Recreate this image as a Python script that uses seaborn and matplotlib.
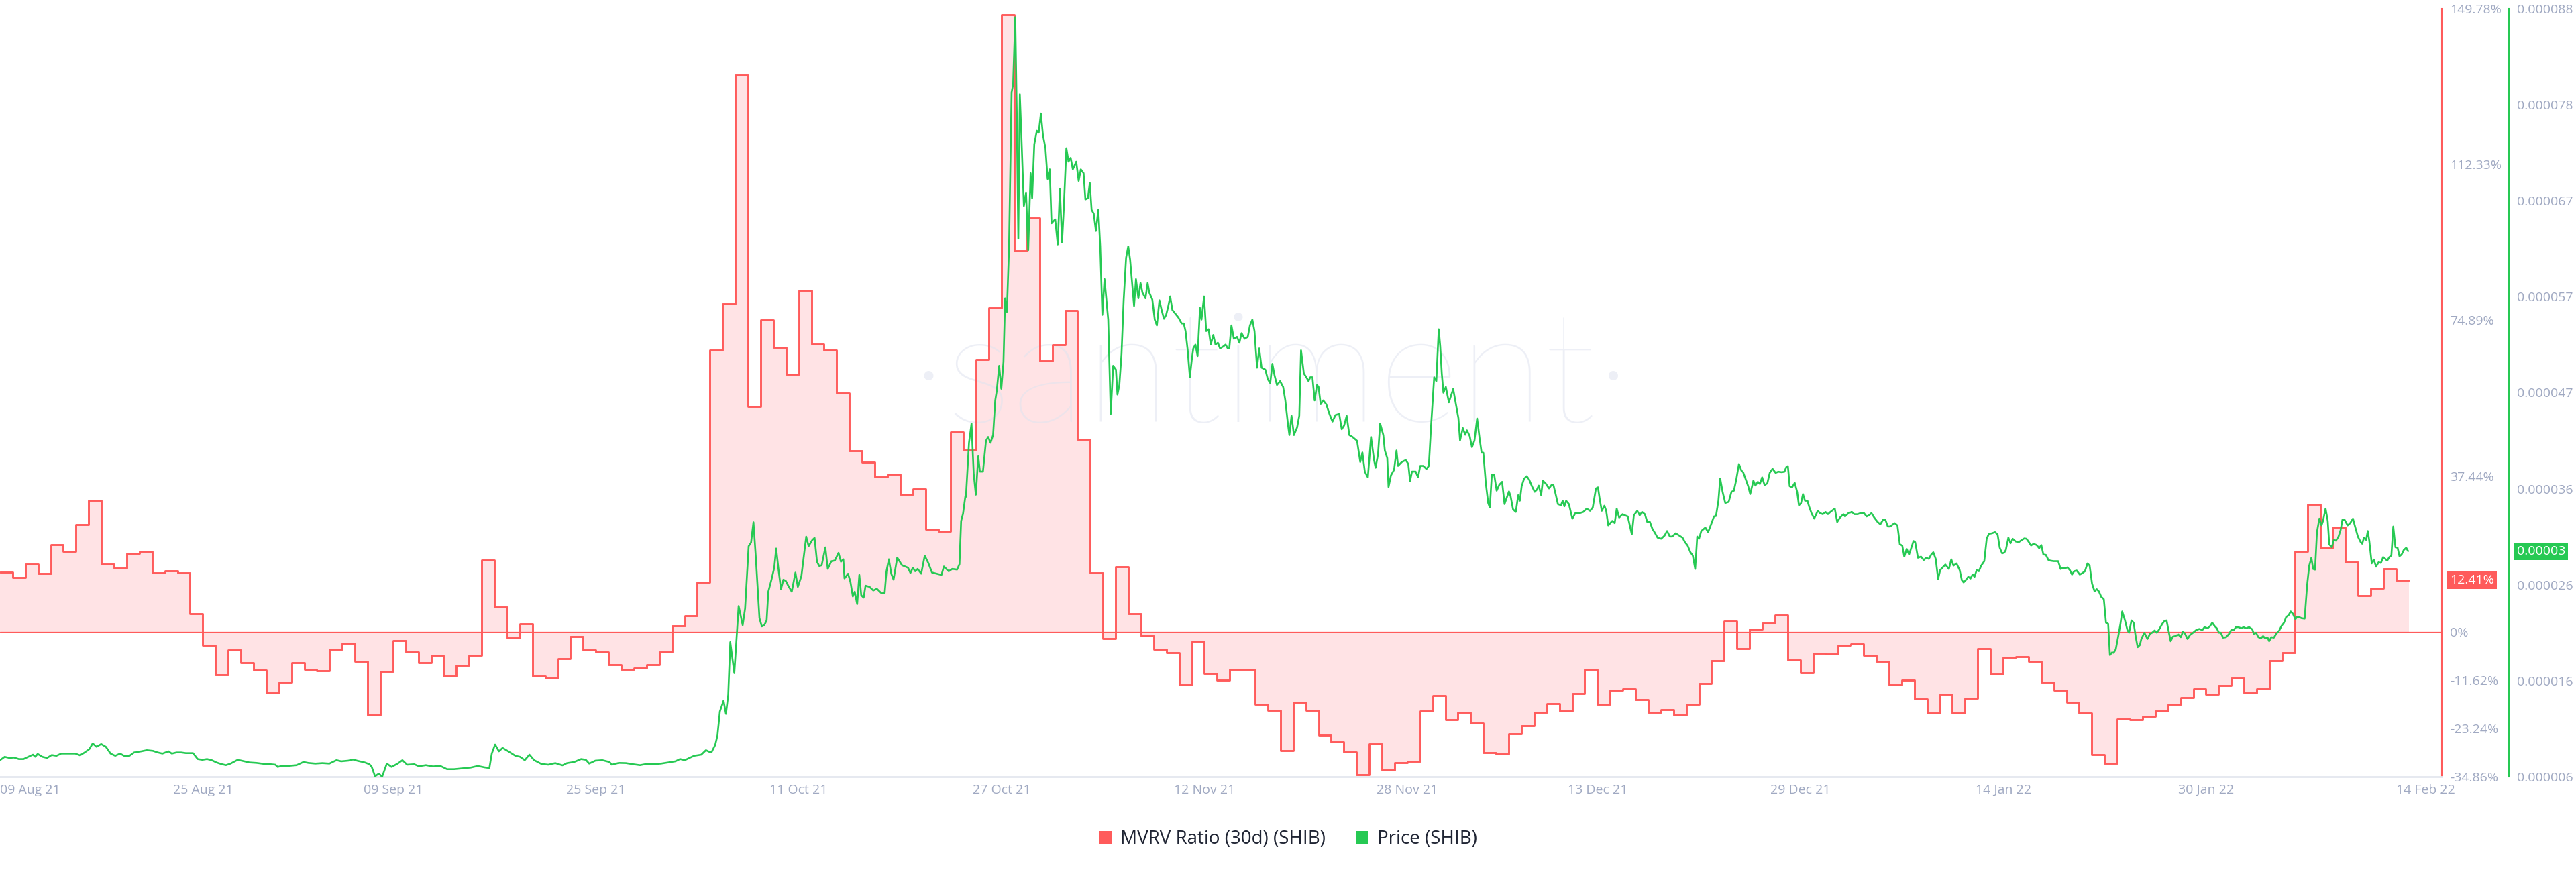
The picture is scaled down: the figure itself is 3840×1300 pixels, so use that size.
import numpy as np
import pandas as pd
import matplotlib
matplotlib.use("Agg")
import matplotlib.pyplot as plt
import matplotlib.transforms as mtransforms
from matplotlib.patches import Patch
import seaborn as sns

# ---------------------------------------------------------------- data
START = "2021-08-09"

# MVRV ratio (30d) of SHIB, one value per day, in percent
mvrv_aug_oct = [14.4, 13.0, 16.3, 14.0, 21.0, 19.4, 25.8, 31.6, 16.3, 15.3,
                18.8, 19.4, 14.1, 14.7, 14.2, 4.3, -3.2, -10.4, -4.4, -7.5,
                -9.3, -14.7, -12.1, -7.5, -9.1, -9.4, -4.3, -2.8, -7.2, -20.1,
                -9.6, -2.1, -4.9, -7.5, -5.7, -10.6, -8.1, -5.7, 17.2, 6.0,
                -1.4, 1.9, -10.6, -11.1, -6.4, -1.2, -4.4, -4.9, -7.9, -9.0,
                -8.8, -8.0, -4.9, 1.5, 3.8, 11.9, 67.7, 78.8, 133.8, 54.2,
                74.9, 68.4, 61.9, 82.0, 69.1, 67.7, 57.3, 43.5, 40.7]
mvrv_oct_dec = [37.3, 37.9, 33.0, 34.4, 24.6, 24.1, 48.0, 43.6, 65.4, 77.8,
                148.4, 91.5, 99.4, 65.1, 69.0, 77.2, 46.2, 14.2, -1.6, 15.6,
                4.4, -1.0, -4.3, -5.1, -12.7, -2.3, -10.0, -11.6, -9.1, -9.1,
                -17.5, -18.9, -28.5, -17.0, -18.9, -24.8, -26.4, -28.9, -34.3, -26.9,
                -33.3, -31.4, -31.2, -19.1, -15.4, -21.1, -19.3, -22.0, -29.0, -29.3,
                -24.6, -22.6, -19.3, -17.3, -19.0, -14.9, -9.0, -17.4, -14.1, -13.8,
                -16.3, -19.4, -18.8, -20.1, -17.4, -12.5, -7.0, 2.6, -4.1]
mvrv_dec_feb = [0.6, 2.1, 4.0, -6.8, -9.8, -5.2, -5.4, -3.2, -3.0, -5.6,
                -7.2, -12.8, -11.7, -16.2, -19.5, -15.1, -19.5, -16.0, -4.1, -10.2,
                -6.2, -6.0, -7.2, -12.1, -14.0, -17.0, -19.6, -29.5, -31.7, -21.0,
                -21.1, -20.4, -19.0, -17.4, -15.8, -13.8, -15.1, -12.9, -11.2, -14.7,
                -13.7, -6.9, -5.1, 19.3, 30.6, 20.2, 25.1, 16.8, 8.6, 10.5,
                15.1, 12.41]

# SHIB price: (days since START, price in millionths of USD)
price_aug_sep = [(0.00, 7.77), (0.37, 8.13), (0.74, 8.01), (1.11, 8.05), (1.48, 7.89), (1.86, 7.89), (2.23, 8.13), (2.60, 8.36), (2.78, 8.13), (2.97, 8.44),
                 (3.34, 8.13), (3.71, 8.01), (4.08, 8.32), (4.45, 8.24), (4.83, 8.48), (5.20, 8.48), (5.57, 8.48), (5.94, 8.48), (6.31, 8.29), (6.68, 8.60),
                 (7.05, 8.96), (7.31, 9.56), (7.61, 9.20), (7.98, 9.49), (8.35, 9.20), (8.72, 8.48), (9.09, 8.24), (9.47, 8.48), (9.84, 8.20), (10.21, 8.24),
                 (10.58, 8.60), (11.14, 8.72), (11.58, 8.84), (12.06, 8.77), (12.44, 8.60), (12.81, 8.48), (13.29, 8.72), (13.55, 8.48), (13.92, 8.60), (14.29, 8.60),
                 (14.66, 8.53), (15.22, 8.53), (15.59, 7.89), (15.96, 7.81), (16.33, 7.89), (16.70, 7.77), (17.07, 7.53), (17.45, 7.36), (17.82, 7.24), (18.19, 7.41),
                 (18.75, 7.81), (19.12, 7.70), (19.67, 7.53), (20.23, 7.48), (20.79, 7.38), (21.34, 7.34), (21.72, 7.29), (21.90, 7.05), (22.27, 7.17), (22.83, 7.17),
                 (23.39, 7.24), (23.94, 7.58), (24.31, 7.48), (24.87, 7.41), (25.43, 7.46), (25.98, 7.41), (26.54, 7.77), (26.91, 7.65), (27.47, 7.72), (27.84, 7.84),
                 (28.21, 7.70), (28.77, 7.53), (29.14, 7.34), (29.32, 7.05), (29.58, 6.05), (29.88, 6.33), (30.14, 6.00), (30.51, 7.41), (30.88, 7.05), (31.37, 7.41),
                 (31.74, 7.77), (32.11, 7.29), (32.67, 7.34), (33.04, 7.12), (33.59, 7.24), (34.15, 7.10), (34.71, 7.17), (35.26, 6.81), (35.82, 6.81), (36.56, 6.91),
                 (37.12, 6.98), (37.68, 7.15), (38.23, 7.00), (38.60, 6.93), (38.79, 8.48), (39.05, 9.44), (39.35, 8.72), (39.64, 9.08), (40.09, 8.72), (40.65, 8.24),
                 (41.02, 8.13), (41.39, 7.77), (41.76, 8.36), (42.13, 7.77), (42.69, 7.38), (43.24, 7.29), (43.80, 7.46), (44.36, 7.22), (44.73, 7.46), (45.29, 7.58),
                 (45.84, 7.89), (46.21, 7.81), (46.47, 7.41), (46.96, 7.72), (47.51, 7.77), (48.07, 7.58), (48.26, 7.29), (48.81, 7.48), (49.37, 7.46), (49.93, 7.34),
                 (50.48, 7.24), (51.04, 7.38), (51.60, 7.34), (52.15, 7.41), (52.71, 7.53), (53.27, 7.65), (53.64, 7.89), (54.01, 7.77), (54.38, 8.01), (54.75, 8.24),
                 (55.31, 8.36), (55.68, 8.84), (56.05, 8.60)]
price_oct_a = [(56.12, 8.62), (56.41, 9.39), (56.59, 10.41), (56.78, 12.97), (57.07, 14.12), (57.26, 12.71), (57.44, 14.76), (57.60, 20.38), (57.92, 17.06), (58.26, 24.23),
               (58.58, 22.18), (58.77, 23.97), (59.05, 30.62), (59.24, 31.01), (59.43, 33.18), (59.62, 29.34), (59.90, 22.95), (60.09, 22.05), (60.28, 22.18), (60.47, 22.69),
               (60.60, 25.76), (60.85, 27.04), (61.07, 28.32), (61.22, 30.37), (61.41, 28.06), (61.60, 26.02), (61.79, 27.04), (61.98, 26.91), (62.17, 26.40), (62.45, 25.76),
               (62.74, 27.80), (62.93, 26.27), (63.21, 27.42), (63.59, 31.64), (63.78, 30.62), (64.06, 31.26), (64.25, 31.51), (64.44, 28.96), (64.62, 28.50), (64.81, 28.58),
               (65.10, 30.49), (65.29, 28.19), (65.57, 29.01), (65.85, 29.09), (66.14, 29.91), (66.33, 28.96), (66.52, 29.22), (66.61, 27.17), (66.89, 27.68), (67.08, 26.79),
               (67.27, 25.25), (67.42, 25.76), (67.61, 24.43), (67.78, 27.55), (67.93, 25.38), (68.12, 25.12), (68.27, 26.40), (68.59, 26.27), (68.88, 25.89), (69.16, 26.07),
               (69.54, 25.58), (69.78, 25.63), (69.92, 27.93), (70.11, 29.22), (70.30, 27.68), (70.48, 27.04), (70.77, 29.40), (71.15, 28.58), (71.62, 28.32), (71.81, 27.76),
               (72.00, 28.32), (72.19, 27.94), (72.38, 28.19), (72.66, 27.68), (72.94, 29.60), (73.22, 28.83), (73.51, 27.81), (73.88, 27.68), (74.26, 27.55), (74.45, 28.45),
               (74.83, 27.94), (75.11, 28.19), (75.49, 28.12), (75.68, 28.70), (75.81, 33.31), (75.96, 34.08), (76.15, 36.00)]
price_oct_nov = [(76.19, 35.90), (76.43, 41.66), (76.63, 43.72), (76.80, 38.37), (76.97, 36.11), (77.16, 40.22), (77.29, 38.58), (77.53, 38.58), (77.77, 41.87), (77.94, 42.28),
                 (78.13, 41.66), (78.33, 42.48), (78.50, 46.18), (78.62, 47.21), (78.81, 49.88), (78.98, 47.42), (79.15, 50.29), (79.28, 57.08), (79.42, 55.64), (79.59, 62.63),
                 (79.79, 79.07), (79.91, 79.90), (80.08, 87.09), (80.20, 76.61), (80.32, 63.45), (80.44, 78.87), (80.56, 74.55), (80.76, 66.94), (80.93, 68.38), (81.10, 62.22),
                 (81.29, 70.44), (81.41, 67.77), (81.58, 73.53), (81.78, 74.97), (81.93, 74.76), (82.10, 76.82), (82.26, 74.55), (82.46, 73.11), (82.63, 69.82), (82.80, 70.85),
                 (82.94, 65.09), (83.23, 65.51), (83.43, 62.83), (83.60, 68.79), (83.77, 63.04), (83.91, 66.74), (84.11, 73.11), (84.28, 71.67), (84.45, 72.08), (84.62, 70.85),
                 (84.89, 71.67), (85.08, 69.61), (85.25, 70.85), (85.47, 70.44), (85.61, 67.64), (85.81, 67.77), (85.96, 69.41), (86.10, 66.53), (86.27, 66.12), (86.44, 64.27),
                 (86.63, 66.53), (86.78, 62.63), (86.95, 55.31), (87.12, 59.13), (87.41, 54.81), (87.61, 44.74), (87.80, 49.88), (88.02, 49.47), (88.14, 46.80), (88.29, 47.83),
                 (88.46, 51.12), (88.63, 56.88), (88.82, 61.40), (88.99, 62.63), (89.14, 61.19), (89.31, 58.52), (89.45, 56.26), (89.60, 59.13), (89.79, 57.08), (89.96, 58.72),
                 (90.11, 57.69), (90.35, 57.08), (90.52, 58.72), (90.65, 57.69), (90.89, 56.95), (91.08, 54.81), (91.25, 54.19), (91.45, 56.87), (91.62, 55.84), (91.81, 54.89),
                 (91.98, 55.31), (92.15, 56.25), (92.30, 57.28), (92.47, 55.84), (92.71, 55.43), (92.95, 55.02), (93.20, 54.40), (93.37, 54.40), (93.51, 53.58), (93.68, 51.53),
                 (93.85, 48.65), (94.00, 50.50), (94.12, 51.73), (94.29, 52.14), (94.46, 50.91), (94.65, 56.05), (94.77, 54.81), (94.97, 57.28), (95.14, 53.58), (95.33, 53.78),
                 (95.50, 52.14), (95.70, 53.17), (95.87, 52.14), (96.06, 52.34), (96.23, 51.73), (96.48, 51.93), (96.67, 52.14), (96.84, 51.73), (96.96, 51.73), (97.13, 54.19),
                 (97.32, 52.76), (97.57, 52.96), (97.76, 52.34), (97.93, 53.37), (98.17, 52.76), (98.42, 52.96), (98.59, 54.19), (98.78, 54.81), (98.95, 53.58), (99.15, 49.67),
                 (99.32, 51.73), (99.51, 49.67), (99.80, 49.47), (100.00, 48.44), (100.19, 48.03), (100.36, 50.09), (100.53, 48.85), (100.72, 47.83), (100.97, 48.24), (101.21, 47.62),
                 (101.38, 46.18), (101.58, 43.72), (101.70, 42.48), (101.87, 44.54), (102.06, 42.48), (102.31, 43.30), (102.48, 44.54), (102.62, 51.53), (102.84, 49.06), (103.04, 48.65),
                 (103.21, 48.24), (103.35, 48.65), (103.52, 48.65), (103.69, 46.18), (103.88, 47.83), (104.00, 47.62), (104.17, 45.77), (104.37, 46.18), (104.61, 45.77), (104.86, 44.74),
                 (105.10, 43.92), (105.34, 44.62), (105.63, 44.74), (105.83, 43.10), (106.02, 43.51), (106.22, 44.54), (106.43, 42.48), (106.68, 42.28), (107.04, 41.87), (107.29, 39.61),
                 (107.46, 40.63), (107.65, 38.58), (107.89, 37.96), (108.14, 42.28), (108.38, 39.81), (108.50, 38.99), (108.69, 40.43), (108.86, 43.72), (109.11, 42.48), (109.23, 40.84),
                 (109.42, 40.02), (109.52, 36.93), (109.71, 38.17), (109.96, 38.78), (110.15, 40.84), (110.27, 39.19), (110.57, 39.61), (110.88, 39.81), (111.08, 39.40), (111.22, 37.55),
                 (111.37, 38.58), (111.66, 38.58), (111.85, 37.96), (112.02, 39.19), (112.26, 39.19), (112.51, 38.86), (112.70, 39.19), (112.87, 43.30), (113.12, 48.65), (113.29, 48.24),
                 (113.48, 53.78), (113.60, 51.93), (113.72, 49.06), (113.85, 47.00), (114.04, 47.62), (114.28, 45.97)]
price_dec_jan = [(114.62, 47.40), (114.84, 45.73), (115.03, 44.30), (115.16, 41.91), (115.38, 43.23), (115.57, 42.51), (115.70, 42.99), (115.92, 42.39), (116.10, 41.19), (116.30, 41.91),
                 (116.51, 44.25), (116.70, 42.15), (116.86, 40.60), (117.00, 40.60), (117.19, 37.38), (117.38, 35.23), (117.51, 34.75), (117.67, 38.28), (117.86, 38.21), (118.05, 36.54),
                 (118.26, 37.18), (118.48, 37.49), (118.67, 35.11), (119.02, 36.47), (119.15, 35.94), (119.34, 34.56), (119.56, 34.27), (119.75, 36.06), (119.88, 35.47), (120.02, 37.02),
                 (120.21, 37.81), (120.42, 38.09), (120.61, 37.73), (120.83, 37.02), (121.05, 36.42), (121.23, 36.66), (121.37, 37.09), (121.56, 36.06), (121.69, 37.61), (121.91, 37.33),
                 (122.18, 36.78), (122.37, 37.14), (122.53, 37.14), (122.72, 36.06), (122.88, 35.11), (123.12, 34.99), (123.26, 35.47), (123.39, 34.87), (123.53, 35.47), (123.75, 35.11),
                 (124.02, 33.55), (124.26, 34.15), (124.61, 34.15), (124.88, 34.27), (125.15, 34.63), (125.42, 34.39), (125.63, 34.75), (125.88, 36.78), (126.04, 36.90), (126.17, 35.70),
                 (126.34, 34.39), (126.55, 34.94), (126.69, 34.39), (126.85, 32.84), (127.17, 33.32), (127.36, 33.08), (127.52, 34.63), (127.71, 33.67), (127.98, 34.03), (128.17, 33.91),
                 (128.39, 33.79), (128.71, 31.88), (128.87, 33.91), (129.14, 34.39), (129.33, 33.91), (129.52, 34.27), (129.74, 34.03), (129.93, 33.20), (130.14, 33.20), (130.33, 32.48),
                 (130.55, 32.00), (130.74, 31.53), (131.03, 31.41), (131.30, 31.76), (131.49, 32.24), (131.71, 31.65), (131.90, 31.65), (132.17, 32.00), (132.44, 31.76), (132.71, 31.53),
                 (132.90, 31.05), (133.11, 30.69), (133.33, 29.97), (133.52, 29.62), (133.71, 28.18), (133.87, 31.65), (134.01, 31.41), (134.19, 32.24), (134.51, 32.60), (134.73, 32.12),
                 (135.00, 33.08), (135.19, 33.79), (135.35, 33.84), (135.54, 35.47), (135.68, 37.85), (135.87, 36.42), (136.08, 35.23), (136.35, 35.35), (136.57, 36.42), (136.76, 36.54),
                 (136.95, 37.73), (137.16, 39.40), (137.35, 38.69), (137.49, 38.52), (137.70, 37.73), (137.89, 37.02), (138.05, 36.18), (138.30, 37.61), (138.46, 37.09), (138.65, 37.49),
                 (138.81, 37.26), (138.99, 37.97), (139.18, 37.14), (139.40, 37.33), (139.59, 38.45), (139.81, 38.88), (140.05, 38.45), (140.26, 38.57), (140.53, 38.52), (140.75, 38.57),
                 (140.89, 39.05), (141.02, 39.17), (141.16, 37.02), (141.35, 36.90), (141.56, 37.38), (141.75, 36.42), (141.89, 34.99), (142.05, 35.18), (142.21, 36.18), (142.37, 35.47),
                 (142.56, 35.47), (142.69, 34.87), (142.88, 34.15), (143.10, 33.56), (143.37, 34.39), (143.56, 34.15), (143.77, 34.03), (143.99, 34.27), (144.18, 34.03), (144.37, 34.27),
                 (144.72, 34.63), (144.91, 33.20), (145.13, 33.67), (145.40, 34.03), (145.53, 33.79), (145.80, 34.15), (146.07, 34.27), (146.26, 34.03), (146.53, 34.03), (146.75, 34.15),
                 (147.02, 34.15), (147.23, 33.79), (147.41, 33.91), (147.61, 34.15), (147.83, 33.67), (148.10, 33.20), (148.31, 32.96), (148.53, 33.44), (148.71, 33.44), (148.90, 32.72),
                 (149.09, 32.72), (149.31, 32.96), (149.44, 33.08), (149.66, 32.84), (149.85, 30.81), (150.04, 30.69), (150.20, 29.50), (150.39, 30.33), (150.58, 29.73), (150.93, 31.17),
                 (151.06, 31.05), (151.28, 29.38), (151.52, 29.50), (151.74, 29.14), (151.93, 29.38), (152.14, 29.26), (152.33, 29.73), (152.49, 29.97), (152.68, 29.26), (152.87, 27.11),
                 (153.03, 28.06), (153.44, 28.66)]
price_jan_feb = [(153.72, 28.18), (153.91, 29.21), (154.08, 28.54), (154.32, 28.78), (154.57, 28.06), (154.74, 26.99), (154.88, 26.75), (155.05, 26.99), (155.25, 27.35), (155.42, 27.16),
                 (155.59, 27.59), (155.74, 27.35), (155.91, 28.06), (156.08, 27.94), (156.27, 28.54), (156.51, 29.02), (156.70, 31.41), (156.87, 31.93), (157.12, 32.00), (157.36, 32.12),
                 (157.56, 31.88), (157.73, 30.45), (157.92, 29.85), (158.09, 29.93), (158.21, 30.21), (158.41, 31.53), (158.58, 30.93), (158.75, 31.41), (158.99, 31.12), (159.23, 31.05),
                 (159.48, 31.29), (159.67, 31.45), (159.84, 31.41), (160.03, 31.05), (160.20, 30.69), (160.40, 30.88), (160.64, 30.74), (160.84, 30.40), (161.01, 30.74), (161.17, 29.73),
                 (161.37, 29.69), (161.57, 29.14), (161.74, 29.07), (161.98, 29.02), (162.34, 29.02), (162.53, 28.18), (162.70, 28.30), (162.87, 28.25), (163.07, 28.35), (163.26, 28.06),
                 (163.43, 27.59), (163.60, 27.94), (163.80, 28.02), (164.04, 27.59), (164.21, 27.71), (164.45, 27.94), (164.65, 28.78), (164.82, 28.54), (165.01, 26.63), (165.21, 25.79),
                 (165.38, 26.03), (165.55, 25.79), (165.74, 25.20), (165.94, 24.96), (166.11, 22.45), (166.28, 22.33), (166.42, 18.99), (166.59, 19.28), (166.71, 19.23), (166.88, 19.59),
                 (167.08, 21.02), (167.25, 22.33), (167.39, 23.65), (167.61, 22.69), (167.80, 21.66), (167.93, 21.38), (168.12, 22.69), (168.29, 22.45), (168.46, 20.90), (168.61, 19.83),
                 (168.78, 20.06), (168.90, 20.71), (169.14, 21.38), (169.38, 20.71), (169.58, 21.26), (169.75, 21.38), (169.95, 21.62), (170.12, 21.38), (170.31, 21.74), (170.55, 22.33),
                 (170.72, 22.62), (170.89, 22.69), (171.04, 21.62), (171.21, 20.47), (171.38, 20.95), (171.57, 21.02), (171.82, 21.19), (172.01, 20.90), (172.18, 21.50), (172.35, 21.26),
                 (172.54, 20.71), (172.74, 21.14), (172.98, 21.38), (173.22, 21.66), (173.47, 21.78), (173.71, 21.66), (173.88, 21.97), (174.12, 21.85), (174.32, 22.09), (174.49, 22.45),
                 (174.68, 22.09), (174.85, 21.85), (175.02, 21.38), (175.17, 21.38), (175.34, 20.85), (175.58, 20.90), (175.82, 21.26), (175.99, 21.66), (176.19, 21.66), (176.36, 21.97),
                 (176.55, 21.97), (176.79, 21.85), (176.96, 21.97), (177.16, 21.85), (177.40, 21.97), (177.65, 21.74), (177.77, 21.26), (177.94, 21.38), (178.13, 20.90), (178.33, 20.78),
                 (178.50, 21.02), (178.67, 20.78), (178.86, 20.85), (178.98, 20.47), (179.15, 20.90), (179.35, 20.85), (179.54, 21.26), (179.78, 21.62), (179.95, 22.09), (180.15, 22.45),
                 (180.32, 23.05), (180.51, 23.24), (180.68, 23.65), (180.85, 23.41), (181.05, 22.81), (181.17, 23.05), (181.34, 23.05), (181.53, 22.93), (181.78, 22.88), (181.97, 26.39),
                 (182.14, 28.54), (182.31, 29.38), (182.45, 28.18), (182.60, 28.11), (182.75, 32.12), (182.94, 33.56), (183.11, 32.84), (183.23, 33.32), (183.43, 34.63), (183.60, 33.32),
                 (183.72, 30.81), (183.92, 30.50), (184.08, 31.29), (184.25, 31.21), (184.45, 31.64), (184.62, 32.36), (184.76, 33.44), (184.93, 33.44), (185.17, 32.84), (185.37, 33.08),
                 (185.59, 33.56), (185.78, 32.60), (185.98, 31.64), (186.20, 31.05), (186.32, 30.88), (186.46, 31.53), (186.63, 31.29), (186.76, 32.24), (186.88, 31.17), (187.07, 28.78),
                 (187.24, 29.19), (187.41, 28.42), (187.61, 28.90), (187.80, 28.83), (187.97, 29.45), (188.14, 29.26), (188.29, 29.07), (188.46, 29.45), (188.62, 29.62), (188.77, 32.72),
                 (188.94, 30.50), (189.11, 30.45), (189.26, 29.54), (189.43, 29.73), (189.60, 30.21), (189.79, 30.45), (189.94, 30.09)]

x_tick_labels = ["09 Aug 21", "25 Aug 21", "09 Sep 21", "25 Sep 21", "11 Oct 21", "27 Oct 21",
                 "12 Nov 21", "28 Nov 21", "13 Dec 21", "29 Dec 21", "14 Jan 22", "30 Jan 22", "14 Feb 22"]
mvrv_ticks = [-34.86, -23.24, -11.62, 0, 37.44, 74.89, 112.33, 149.78]
price_tick_labels = ["0.000006", "0.000016", "0.000026", "0.000036", "0.000047",
                     "0.000057", "0.000067", "0.000078", "0.000088"]
mvrv_last_label = "12.41%"
price_last_label = "0.00003"
series_names = ["MVRV Ratio (30d) (SHIB)", "Price (SHIB)"]
watermark = "\u00b7santiment\u00b7"

# ---------------------------------------------------------------- style
RED = "#ff5b5b"
FILL = "#ffe3e5"
GREEN = "#26c953"
TICK = "#a0a9c2"
AXIS = "#e3e7ef"

sns.set_theme(style="white")
plt.rcParams["font.family"] = ["Open Sans", "DejaVu Sans"]

start = pd.Timestamp(START)
mvrv = mvrv_aug_oct + mvrv_oct_dec + mvrv_dec_feb
days = list(pd.date_range(start, periods=len(mvrv), freq="D"))
step_x = days + [days[-1] + pd.Timedelta(days=1)]
step_y = mvrv + [mvrv[-1]]
red_df = pd.DataFrame({"date": step_x, "mvrv": step_y})

pairs = price_aug_sep + price_oct_a + price_oct_nov + price_dec_jan + price_jan_feb
price_df = pd.DataFrame({
    "date": [start + pd.Timedelta(days=d) for d, _ in pairs],
    "price": [p * 1e-6 for _, p in pairs],
})

# ---------------------------------------------------------------- figure
W, H = 3840, 1300
fig = plt.figure(figsize=(W / 100, H / 100), dpi=100)
fig.patch.set_facecolor("white")
ax_left, ax_right, ax_top, ax_bottom = 0, 3640, 13, 1158
ax = fig.add_axes([ax_left / W, 1 - ax_bottom / H, (ax_right - ax_left) / W, (ax_bottom - ax_top) / H])
ax.set_facecolor("white")

ax.fill_between(red_df["date"], red_df["mvrv"], 0, step="post", color=FILL, lw=0, zorder=1)
ax.text(0.5206, 0.517, watermark, transform=ax.transAxes, ha="center", va="center",
        fontsize=168, color="#dfe3ef", alpha=0.55, family=["Lato", "DejaVu Sans"],
        fontweight="light", zorder=1.5)
ax.axhline(0, color=RED, lw=0.9, zorder=2)
sns.lineplot(data=red_df, x="date", y="mvrv", ax=ax, color=RED, lw=2.1,
             drawstyle="steps-post", estimator=None, sort=False, zorder=3)

ax.set_xlim(start, step_x[-1] + pd.Timedelta(days=2.6))
ax.set_ylim(min(mvrv_ticks), max(mvrv_ticks))
ax.set_xlabel("")
ax.set_ylabel("")

# price axis (twinx moves the first axis' ticks to the left, so set sides afterwards)
ax2 = ax.twinx()
sns.lineplot(data=price_df, x="date", y="price", ax=ax2, color=GREEN, lw=1.9,
             estimator=None, sort=False, zorder=4)
ax2.set_ylim(6e-6, 88e-6)
ax2.set_yticks(np.linspace(6e-6, 88e-6, len(price_tick_labels)))
ax2.set_yticklabels(price_tick_labels)
ax2.tick_params(axis="y", length=0, pad=8.6, labelsize=14, labelcolor=TICK)
ax2.set_ylabel("")
ax2.set_xlabel("")
for s in ("left", "top", "bottom"):
    ax2.spines[s].set_visible(False)
ax2.spines["right"].set_position(("axes", 3740 / 3640))
ax2.spines["right"].set_color(GREEN)
ax2.spines["right"].set_linewidth(1.5)

tick_dates = pd.to_datetime(x_tick_labels, format="%d %b %y")
ax.set_xticks(tick_dates)
ax.set_xticklabels(x_tick_labels)
ax.tick_params(axis="x", length=0, pad=8, labelsize=14, labelcolor=TICK)
xl = ax.get_xticklabels()
xl[0].set_ha("left")
xl[-1].set_ha("left")

ax.yaxis.tick_right()
ax.yaxis.set_label_position("right")
ax.set_yticks(mvrv_ticks)
ax.set_yticklabels([f"{v:g}%" for v in mvrv_ticks])
ax.tick_params(axis="y", which="both", left=False, right=True, labelleft=False,
               labelright=True, length=0, pad=8.6, labelsize=14, labelcolor=TICK)

for s in ("left", "top"):
    ax.spines[s].set_visible(False)
ax.spines["right"].set_color(RED)
ax.spines["right"].set_linewidth(1.5)
ax.spines["bottom"].set_color(AXIS)
ax.spines["bottom"].set_linewidth(2)

# last value badges
tr1 = mtransforms.blended_transform_factory(ax.transAxes, ax.transData)
ax.text(3652 / 3640, mvrv[-1], mvrv_last_label, transform=tr1, ha="left", va="center",
        fontsize=14, color="white", clip_on=False, zorder=10,
        bbox=dict(boxstyle="square,pad=0.2", fc=RED, ec="none"))
tr2 = mtransforms.blended_transform_factory(ax2.transAxes, ax2.transData)
ax2.text(3752 / 3640, price_df["price"].iloc[-1], price_last_label, transform=tr2,
         ha="left", va="center", fontsize=14, color="white", clip_on=False, zorder=10,
         bbox=dict(boxstyle="square,pad=0.2", fc=GREEN, ec="none"))

# legend
handles = [Patch(facecolor=RED, edgecolor="none", label=series_names[0]),
           Patch(facecolor=GREEN, edgecolor="none", label=series_names[1])]
fig.legend(handles=handles, loc="center", bbox_to_anchor=(0.5, 1 - 1251 / H), ncol=2,
           frameon=False, fontsize=20, handlelength=0.7, handleheight=0.7,
           handletextpad=0.45, columnspacing=1.6, labelcolor="#1f2433")

fig.savefig("out.png", dpi=100, facecolor="white")
